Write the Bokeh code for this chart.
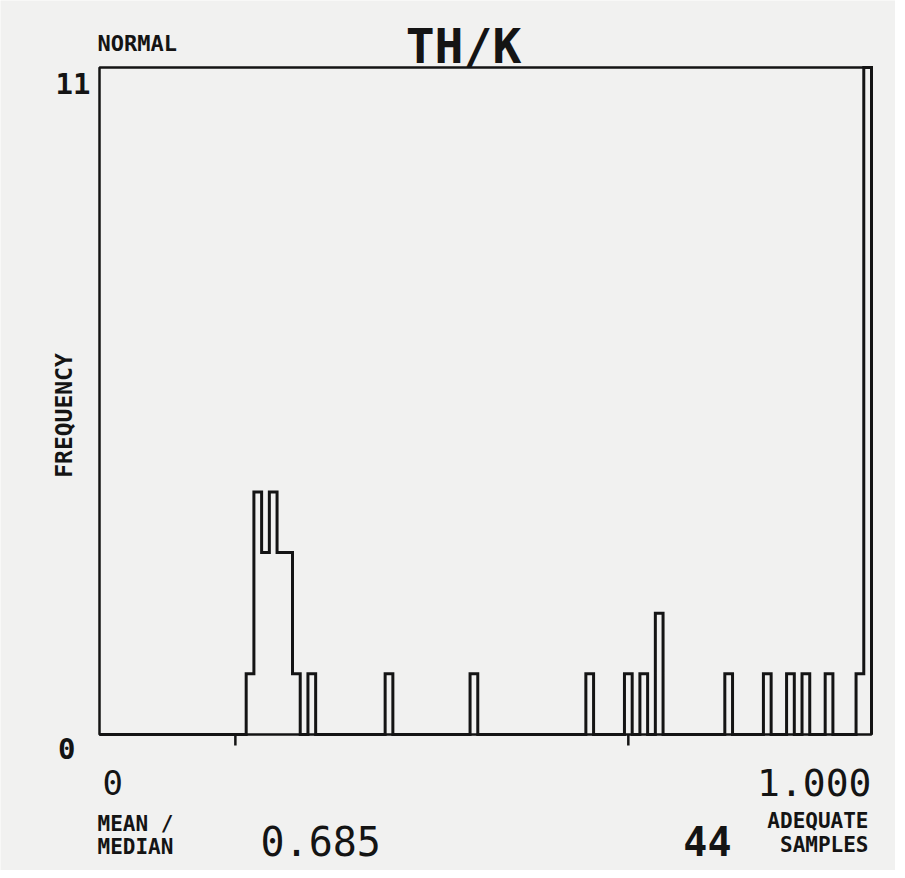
import numpy as np
from bokeh.plotting import figure
from bokeh.models import Range1d
from bokeh.core.properties import value
from bokeh.embed import file_html
from bokeh.resources import INLINE

# ---- data ----
title_text = "TH/K"
dist_text = "NORMAL"
y_max = 11
bin_width = 0.01
bin_start = [0.19, 0.20, 0.21, 0.22, 0.23, 0.24, 0.25, 0.27, 0.37, 0.48,
             0.63, 0.68, 0.70, 0.72, 0.81, 0.86, 0.89, 0.91, 0.94, 0.98, 0.99]
counts = [1, 4, 3, 4, 3, 3, 1, 1, 1, 1,
          1, 1, 1, 2, 1, 1, 1, 1, 1, 1, 11]
marker_ticks = [0.176, 0.685]
mean_median = "0.685"
adequate_samples = "44"
x_min_label = "0"
x_max_label = "1.000"

# ---- layout (pixels) ----
W, H = 895, 870
FX0, FX1 = 99, 871      # chart box left / right
FY0, FY1 = 67, 734      # chart box top / bottom
sx = (FX1 - FX0) / 1.0
sy = (FY1 - FY0) / y_max


def dx(px):
    return (px - FX0) / sx


def dy(py):
    return (FY1 - py) / sy


# ---- step outline of histogram ----
nbins = int(round(1.0 / bin_width))
edges = np.round(np.arange(nbins + 1) * bin_width, 4)
full = np.zeros(nbins)
for s, c in zip(bin_start, counts):
    full[int(round(s / bin_width))] = c
xs = [0.0]
ys = [0.0]
for i in range(nbins):
    xs += [edges[i], edges[i + 1]]
    ys += [full[i], full[i]]
xs.append(1.0)
ys.append(0.0)

BG = "#f1f1f0"
INK = "#141414"
FONT = "DejaVu Sans Mono"

p = figure(width=W, height=H, output_backend="svg", toolbar_location=None,
           x_range=Range1d(dx(0), dx(W)), y_range=Range1d(dy(H), dy(0)),
           min_border=0)
p.background_fill_color = BG
p.border_fill_color = BG
p.outline_line_color = None
p.grid.visible = False
p.axis.visible = False

# chart box
p.quad(left=[0], right=[1], bottom=[0], top=[y_max], fill_color=None,
       line_color=INK, line_width=2.5)
# histogram
p.line(xs, ys, line_width=3, line_color=INK, line_join="miter")
# marker ticks below the base line
tick_len = 11 / sy
p.segment(x0=marker_ticks, y0=[0] * len(marker_ticks), x1=marker_ticks,
          y1=[-tick_len] * len(marker_ticks), line_color=INK, line_width=2.5)


def lab(text, px, py, size, align="left", baseline="alphabetic", bold=True, angle=0.0):
    p.text(x=[dx(px)], y=[dy(py)], text=[text], text_font=value(FONT),
           text_font_size=f"{size}px", text_align=align, text_baseline=baseline,
           text_color=INK, text_font_style="bold" if bold else "normal",
           angle=angle)


lab(dist_text, 97, 43, 22)
lab(title_text, 463, 45, 48, align="center")
lab(str(y_max), 90, 83, 29, align="right")
lab("0", 75, 748, 29, align="right")
lab(x_min_label, 102, 782, 34, bold=False)
lab(x_max_label, 871, 782, 38, align="right", bold=False)
lab("MEAN /", 97, 823, 21)
lab("MEDIAN", 97, 846, 21)
lab(mean_median, 260, 840, 40, bold=False)
lab(adequate_samples, 731, 840, 40, align="right")
lab("ADEQUATE", 868, 820, 21, align="right")
lab("SAMPLES", 868, 844, 21, align="right")
lab("FREQUENCY", 63, 415, 23, align="center", baseline="middle", angle=np.pi / 2)

open("out.html", "w").write(file_html(p, INLINE))
